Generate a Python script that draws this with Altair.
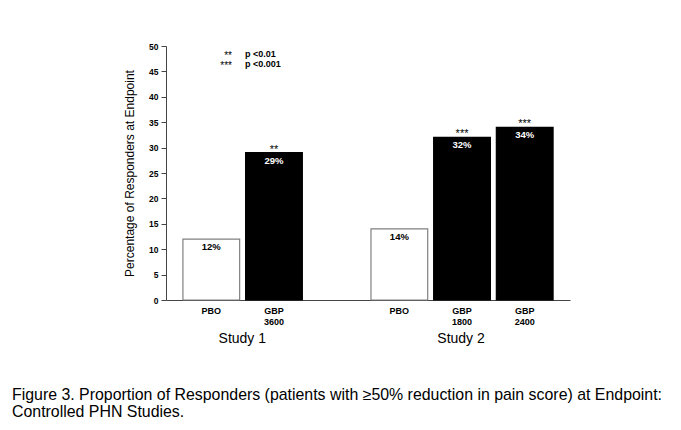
import altair as alt
import pandas as pd

# ---- data ----
keys = ["s1_pbo", "s1_gbp3600", "s2_pbo", "s2_gbp1800", "s2_gbp2400"]
x_domain = ["s1_pbo", "s1_gbp3600", "gap", "s2_pbo", "s2_gbp1800", "s2_gbp2400"]
tick_labels = ["PBO", "GBP|3600", "PBO", "GBP|1800", "GBP|2400"]
values = [12, 29, 14, 32, 34]
pct_labels = ["12%", "29%", "14%", "32%", "34%"]
stars = ["", "**", "", "***", "***"]
active = [False, True, False, True, True]

legend_stars = ["**", "***"]
legend_text = ["p <0.01", "p <0.001"]
legend_y = [48.5, 46.5]

study_names = ["Study 1", "Study 2"]
study_anchor = ["s1_pbo", "s2_gbp1800"]

y_ticks = [0, 5, 10, 15, 20, 25, 30, 35, 40, 45, 50]

caption = ["Figure 3. Proportion of Responders (patients with \u226550% reduction in pain score) at Endpoint:",
           "Controlled PHN Studies."]
y_title = "Percentage of Responders at Endpoint"

FONT = "Liberation Sans"

df = pd.DataFrame({"key": keys, "value": values, "pct": pct_labels,
                   "star": stars, "active": active})
leg = pd.DataFrame({"s": legend_stars, "t": legend_text, "y": legend_y})
studies = pd.DataFrame({"name": study_names, "anchor": study_anchor})
cap = pd.DataFrame({"text": [caption]})

label_expr = "".join(
    f"datum.value == '{k}' ? split('{l}', '|') : " for k, l in zip(keys, tick_labels)
) + "''"

xscale = alt.Scale(domain=x_domain, paddingInner=0.095, paddingOuter=0.27)
yscale = alt.Scale(domain=[0, 50], nice=False)

xaxis = alt.Axis(labelExpr=label_expr, labelAngle=0, ticks=False,
                 labelFont=FONT, labelFontSize=9, labelFontWeight="bold",
                 labelColor="black", labelPadding=6, labelLineHeight=11,
                 domainColor="#444444", domainWidth=1)
yaxis = alt.Axis(values=y_ticks, grid=False, tickSize=5,
                 tickColor="#444444", domainColor="#444444",
                 labelOverlap=False, labelBound=False,
                 labelFont=FONT, labelFontSize=8.5, labelFontWeight="bold",
                 labelColor="black", labelPadding=3,
                 titleFont=FONT, titleFontSize=12, titleFontWeight="normal",
                 titleColor="black", titlePadding=12)


def X(field):
    return alt.X(field, scale=xscale, sort=x_domain, title=None, axis=xaxis)


def Y(field):
    return alt.Y(field, scale=yscale, title=y_title, axis=yaxis)


base = alt.Chart(df)

bars = base.mark_bar(strokeWidth=1.2).encode(
    x=X("key:N"), y=Y("value:Q"),
    color=alt.condition("datum.active", alt.value("black"), alt.value("white")),
    stroke=alt.condition("datum.active", alt.value("black"), alt.value("#808080")),
)

pct = base.mark_text(font=FONT, fontSize=9.5, fontWeight="bold", baseline="top", dy=3).encode(
    x=X("key:N"), y=Y("value:Q"),
    text="pct:N",
    color=alt.condition("datum.active", alt.value("white"), alt.value("black")),
)

star = base.mark_text(font=FONT, fontSize=11, baseline="alphabetic", dy=0, color="black").encode(
    x=X("key:N"), y=Y("value:Q"), text="star:N",
)

leg_s = alt.Chart(leg).mark_text(font=FONT, fontSize=10, align="right", baseline="middle",
                                 dy=2, color="black").encode(
    x=alt.value(66), y=Y("y:Q"), text="s:N")
leg_t = alt.Chart(leg).mark_text(font=FONT, fontSize=9, fontWeight="bold", align="left",
                                 baseline="middle", color="black").encode(
    x=alt.value(79), y=Y("y:Q"), text="t:N")

st1 = alt.Chart(studies).transform_filter("datum.name == 'Study 1'").mark_text(
    font=FONT, fontSize=14, baseline="middle", dx=31, color="black").encode(
    x=X("anchor:N"), y=alt.value(293), text="name:N")
st2 = alt.Chart(studies).transform_filter("datum.name == 'Study 2'").mark_text(
    font=FONT, fontSize=14, baseline="middle", dx=-1, color="black").encode(
    x=X("anchor:N"), y=alt.value(293), text="name:N")

capt = alt.Chart(cap).mark_text(font=FONT, fontSize=15.9, align="left", baseline="middle",
                                lineHeight=17, color="black").encode(
    x=alt.value(-154), y=alt.value(349), text="text")

chart = alt.layer(bars, pct, star, leg_s, leg_t, st1, st2, capt).properties(
    width=404, height=254,
    autosize=alt.AutoSizeParams(type="none"),
    padding={"left": 158, "top": 38, "right": 103, "bottom": 122},
    background="white",
).configure_view(stroke=None)

chart.save("out.html", embed_options={"renderer": "svg", "actions": False})
